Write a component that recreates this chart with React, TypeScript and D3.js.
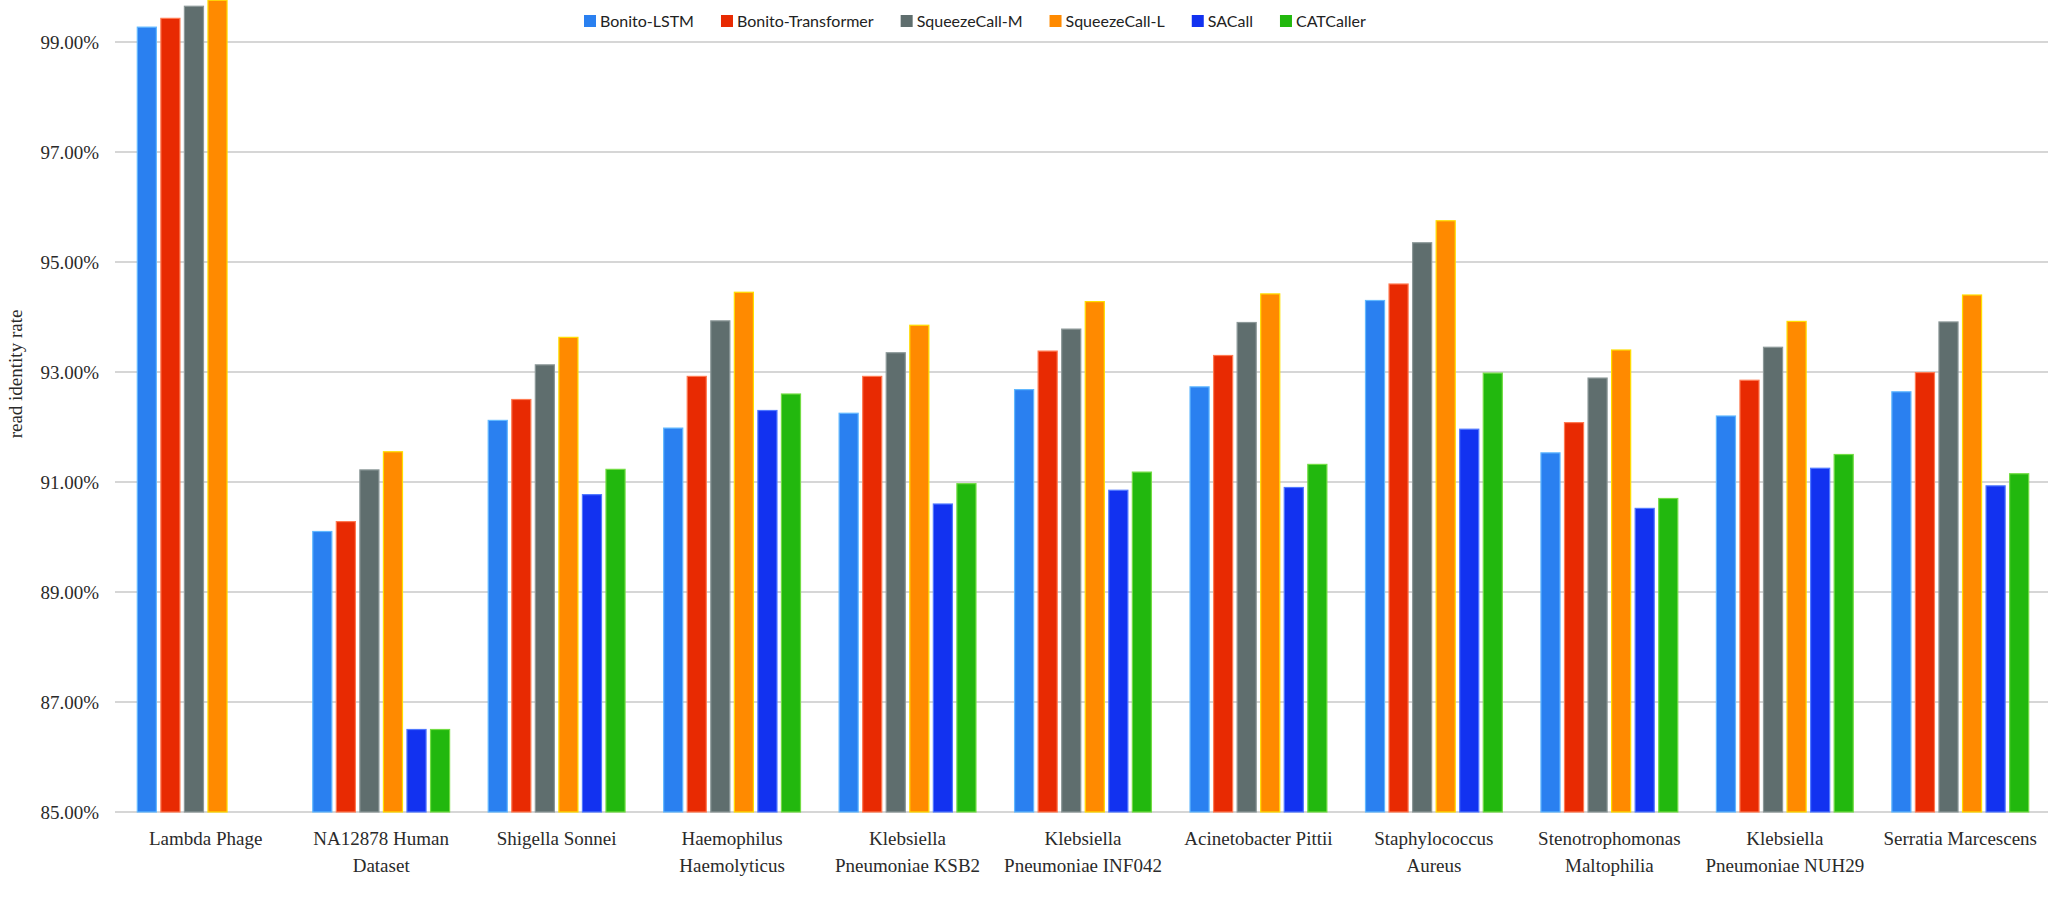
import React, { useEffect, useRef } from "react";
import * as d3 from "d3";

const categories = [
  "Lambda Phage",
  "NA12878 Human\nDataset",
  "Shigella Sonnei",
  "Haemophilus\nHaemolyticus",
  "Klebsiella\nPneumoniae KSB2",
  "Klebsiella\nPneumoniae INF042",
  "Acinetobacter Pittii",
  "Staphylococcus\nAureus",
  "Stenotrophomonas\nMaltophilia",
  "Klebsiella\nPneumoniae NUH29",
  "Serratia Marcescens",
];

const seriesNames = [
  "Bonito-LSTM",
  "Bonito-Transformer",
  "SqueezeCall-M",
  "SqueezeCall-L",
  "SACall",
  "CATCaller",
];

const bonitoLstm = [99.27, 90.1, 92.12, 91.98, 92.25, 92.68, 92.73, 94.3, 91.53, 92.2, 92.64];
const bonitoTransformer = [99.43, 90.28, 92.5, 92.92, 92.92, 93.38, 93.3, 94.6, 92.08, 92.85, 92.99];
const squeezeCallM = [99.65, 91.22, 93.13, 93.93, 93.35, 93.78, 93.9, 95.35, 92.89, 93.45, 93.91];
const squeezeCallL = [99.76, 91.55, 93.63, 94.45, 93.85, 94.28, 94.42, 95.75, 93.4, 93.92, 94.4];
const saCall = [null, 86.5, 90.77, 92.3, 90.6, 90.85, 90.9, 91.96, 90.52, 91.25, 90.93];
const catCaller = [null, 86.5, 91.23, 92.6, 90.97, 91.18, 91.32, 92.98, 90.7, 91.5, 91.15];

const yTicks = [85, 87, 89, 91, 93, 95, 97, 99];

const fills = ["#2a80f0", "#e82a02", "#5f6e6e", "#ff8a00", "#1232f0", "#22b80e"];
const strokes = ["#62b8ff", "#ff7a52", "#8c9898", "#ffde00", "#5078ff", "#72dc44"];

export default function App() {
  const svgRef = useRef<SVGSVGElement | null>(null);

  useEffect(() => {
    if (!svgRef.current) return;
    const svg = d3.select(svgRef.current);
    svg.selectAll("*").remove();

    const W = 2048;
    const H = 911;
    const values = [bonitoLstm, bonitoTransformer, squeezeCallM, squeezeCallL, saCall, catCaller];

    svg.append("rect").attr("width", W).attr("height", H).attr("fill", "#fff");

    const x0 = d3.scaleBand<number>()
      .domain(d3.range(categories.length))
      .range([118, 2048])
      .paddingInner(0.22)
      .paddingOuter(0.11);

    const x1 = d3.scaleBand<number>()
      .domain(d3.range(seriesNames.length))
      .range([0, x0.bandwidth()])
      .paddingInner(0.19);

    const y = d3.scaleLinear().domain([85, 99]).range([812, 42]);

    // grid
    svg.append("g")
      .selectAll("line")
      .data(yTicks)
      .enter()
      .append("line")
      .attr("x1", 115)
      .attr("x2", W)
      .attr("y1", (d) => y(d))
      .attr("y2", (d) => y(d))
      .attr("stroke", "#d6d6d6")
      .attr("stroke-width", 2);

    // y tick labels
    svg.append("g")
      .selectAll("text")
      .data(yTicks)
      .enter()
      .append("text")
      .attr("x", 99)
      .attr("y", (d) => y(d))
      .attr("dy", "0.35em")
      .attr("text-anchor", "end")
      .style("font-family", "'Liberation Serif', 'DejaVu Serif', serif")
      .style("font-size", "19px")
      .attr("fill", "#2a2a2a")
      .text((d) => d3.format(".2f")(d) + "%");

    // y title
    svg.append("text")
      .attr("transform", `translate(15,374) rotate(-90)`)
      .attr("text-anchor", "middle")
      .attr("dy", "0.35em")
      .style("font-family", "'Liberation Serif', serif")
      .style("font-size", "19px")
      .attr("fill", "#2a2a2a")
      .text("read identity rate");

    // bars
    const groups = svg.append("g")
      .selectAll("g")
      .data(categories.map((_, i) => i))
      .enter()
      .append("g")
      .attr("transform", (i) => `translate(${x0(i)},0)`);

    groups
      .selectAll("rect")
      .data((i) => values.map((s, k) => ({ k, v: s[i] })).filter((d) => d.v != null))
      .enter()
      .append("rect")
      .attr("x", (d) => x1(d.k)!)
      .attr("y", (d) => y(d.v as number))
      .attr("width", x1.bandwidth())
      .attr("height", (d) => y(85) - y(d.v as number))
      .attr("fill", (d) => fills[d.k])
      .attr("stroke", (d) => strokes[d.k])
      .attr("stroke-width", 1.2);

    // x labels
    const labels = svg.append("g")
      .selectAll("text")
      .data(categories.map((c, i) => ({ c, i })))
      .enter()
      .append("text")
      .attr("text-anchor", "middle")
      .style("font-family", "'Liberation Serif', serif")
      .style("font-size", "19px")
      .attr("fill", "#2a2a2a");

    labels.each(function (d) {
      const t = d3.select(this);
      d.c.split("\n").forEach((line, li) => {
        t.append("tspan")
          .attr("x", x0(d.i)! + x0.bandwidth() / 2)
          .attr("y", 845 + li * 27)
          .text(line);
      });
    });

    // legend
    const legend = svg.append("g").attr("transform", "translate(584,21)");
    let lx = 0;
    seriesNames.forEach((name, k) => {
      legend.append("rect")
        .attr("x", lx)
        .attr("y", -6)
        .attr("width", 12)
        .attr("height", 12)
        .attr("fill", fills[k]);
      const txt = legend.append("text")
        .attr("x", lx + 16)
        .attr("y", 0)
        .attr("dy", "0.35em")
        .style("font-family", "Lato, 'Open Sans', sans-serif")
        .style("font-size", "16px")
        .attr("fill", "#222")
        .text(name);
      const w = (txt.node() as SVGTextElement).getComputedTextLength();
      lx += 16 + w + 27;
    });
  }, []);

  return (
    <div style={{ position: "absolute", left: 0, top: 0, background: "#fff" }}>
      <svg ref={svgRef} width={2048} height={911} style={{ display: "block" }}></svg>
    </div>
  );
}
